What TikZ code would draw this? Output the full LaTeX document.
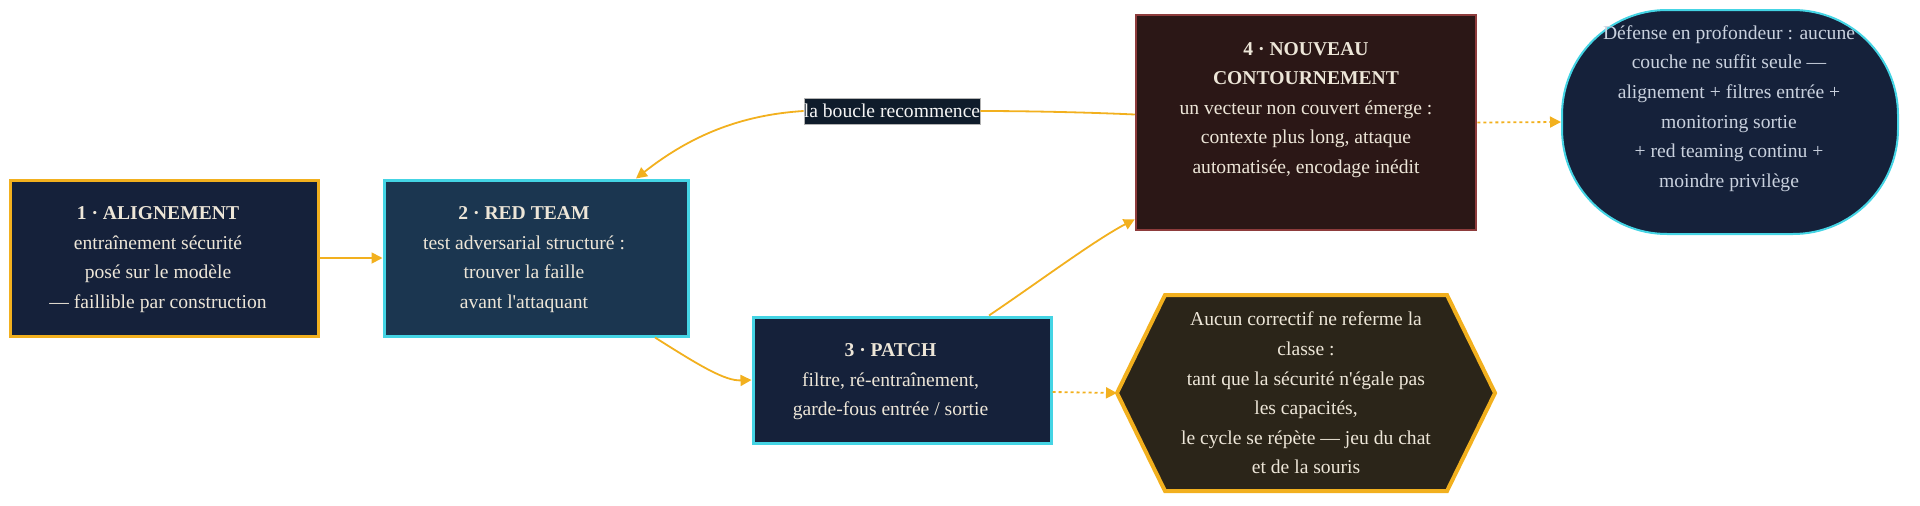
\documentclass[tikz,border=0pt]{standalone}
\usepackage{fontspec}
\setmainfont{Liberation Serif}
\usetikzlibrary{arrows.meta}
\definecolor{gold}{HTML}{F2B01E}
\definecolor{cyanb}{HTML}{44D4E4}
\definecolor{navy}{HTML}{15213A}
\definecolor{steel}{HTML}{1B3650}
\definecolor{maroon}{HTML}{2B1716}
\definecolor{maroonb}{HTML}{8E3C3C}
\definecolor{olive}{HTML}{2B2519}
\definecolor{cream}{HTML}{EDE6D8}
\definecolor{pale}{HTML}{C9D1DE}
\definecolor{lblbg}{HTML}{0F1C2B}
\tikzset{
  txt/.style={text=cream, align=center, font=\fontsize{19.6}{29.6}\selectfont},
  box/.style={rectangle, inner sep=0pt},
  edge/.style={draw=gold, line width=1.8pt, -{Triangle[length=11pt,width=11pt]}},
  dotedge/.style={edge, dash pattern=on 3pt off 3pt},
}
\begin{document}
\begin{tikzpicture}[x=1pt,y=-1pt]
\useasboundingbox (0,0) rectangle (1920,506);
% nodes
\node[box, draw=gold, line width=3pt, fill=navy, minimum width=308pt, minimum height=156pt] (n1) at (164,258) {};
\node[txt] (n1t) at (158,259.5)
  {\textbf{1 · ALIGNEMENT}\\entraînement sécurité\\posé sur le modèle\\— faillible par construction};
\node[box, draw=cyanb, line width=3pt, fill=steel, minimum width=304pt, minimum height=156pt] (n2) at (536,258) {};
\node[txt] (n2t) at (524,259.5)
  {\textbf{2 · RED TEAM}\\test adversarial structuré :\\trouver la faille\\avant l\textquotesingle attaquant};
\node[box, draw=cyanb, line width=3pt, fill=navy, minimum width=298pt, minimum height=126pt] (n3) at (902,380) {};
\node[txt] (n3t) at (890.5,382)
  {\textbf{3 · PATCH}\\filtre, ré-entraînement,\\garde-fous entrée / sortie};
\node[box, draw=maroonb, line width=2.5pt, fill=maroon, minimum width=340pt, minimum height=215pt] (n4) at (1306,122.5) {};
\node[txt] (n4t) at (1306,110)
  {\textbf{4 · NOUVEAU}\\\textbf{CONTOURNEMENT}\\un vecteur non couvert émerge :\\contexte plus long, attaque\\automatisée, encodage inédit};
\node[rectangle, draw=cyanb, line width=2pt, fill=navy, rounded corners=105pt, minimum width=336pt, minimum height=224pt] (n5) at (1730,122) {};
\node[txt, text=pale] (n5t) at (1729,108.5)
  {Défense en profondeur : aucune\\couche ne suffit seule —\\alignement + filtres entrée +\\monitoring sortie\\+ red teaming continu +\\moindre privilège};
\draw[draw=gold, line width=4pt, fill=olive, line join=miter]
  (1117,393) -- (1165,295) -- (1447,295) -- (1495,393) -- (1447,491) -- (1165,491) -- cycle;
\coordinate (n6w) at (1117,393);
\node[txt] (n6) at (1306,393)
  {Aucun correctif ne referme la\\classe :\\tant que la sécurité n\textquotesingle égale pas\\les capacités,\\le cycle se répète — jeu du chat\\et de la souris};
\node[txt, fill=lblbg, draw=gray!60, line width=0.5pt, inner xsep=0pt, inner ysep=6pt, text=white!92!gray] (lbl) at (892,111) {la boucle recommence};
% edges
\draw[edge] (n1.east) -- (n2.west);
\draw[edge] ([xshift=119pt]n2.south) .. controls (700,366) and (725,381) .. (n3.west);
\draw[edge] ([xshift=87pt]n3.north) .. controls (1040,281) and (1095,240) .. ([yshift=12pt]n4.south west);
\draw[draw=gold, line width=1.8pt] ([yshift=8pt]n4.west) .. controls (1080,112) and (1020,111) .. (lbl.east);
\draw[edge] (lbl.west) .. controls (740,115) and (690,136) .. ([xshift=100pt]n2.north);
\draw[dotedge] ([yshift=-12pt]n3.east) -- (n6w);
\draw[dotedge] (n4.east) -- (n5.west);
\end{tikzpicture}
\end{document}
